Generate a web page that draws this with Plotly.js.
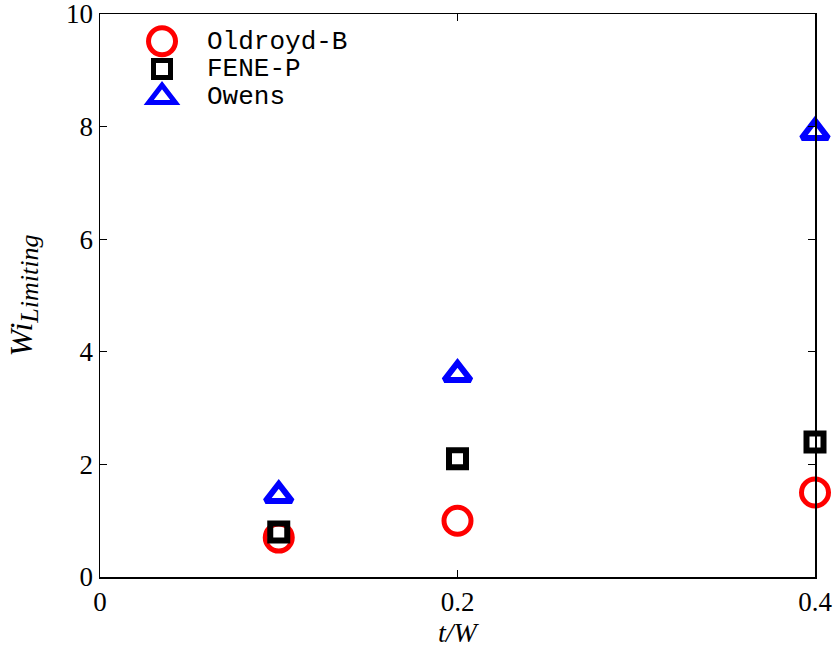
<!DOCTYPE html>
<html>
<head>
<meta charset="utf-8">
<script src="https://cdn.plot.ly/plotly-3.0.1.min.js"></script>
<style>
  html, body { margin: 0; padding: 0; background: #ffffff; }
  #chart { width: 835px; height: 650px; }
</style>
</head>
<body>
<div id="chart"></div>
<script>
// Limiting Weissenberg number against blockage ratio t/W for three constitutive models
const thicknessRatio = [0.1, 0.2, 0.4];
const oldroydB = [0.7, 1.0, 1.5];
const feneP = [0.8, 2.1, 2.4];
const owens = [1.45, 3.6, 7.9];

const seriesNames = ['Oldroyd-B', 'FENE-P', 'Owens'];
const xTickVals = [0, 0.2, 0.4];
const xTickText = ['0', '0.2', '0.4'];
const yTickVals = [0, 2, 4, 6, 8, 10];

const serif = "'Liberation Serif', 'Times New Roman', serif";
const mono = "'Liberation Mono', 'Courier New', monospace";

// legend entry label drawn larger than the legend's row pitch font
const legendLabel = (s) => "<span style='font-size:26px'>" + s + "</span>";

const markerStyles = [
  { symbol: 'circle-open', size: 27, color: '#ff0000', line: { width: 5, color: '#ff0000' } },
  { symbol: 'square-open', size: 17, color: '#000000', line: { width: 6, color: '#000000' } },
  { symbol: 'triangle-up-open', size: 23, color: '#0000ff', line: { width: 6, color: '#0000ff' } }
];
const seriesValues = [oldroydB, feneP, owens];

const traces = seriesValues.map((vals, i) => ({
  x: thicknessRatio,
  y: vals,
  name: legendLabel(seriesNames[i]),
  type: 'scatter',
  mode: 'markers',
  cliponaxis: false,
  marker: markerStyles[i]
}));

const axisCommon = {
  showgrid: false,
  zeroline: false,
  showline: true,
  linecolor: '#000000',
  linewidth: 1.5,
  mirror: 'ticks',
  ticks: 'inside',
  ticklen: 7,
  tickwidth: 1,
  tickcolor: '#000000',
  ticklabeloverflow: 'allow',
  tickfont: { family: serif, size: 27, color: '#000000' }
};

const layout = {
  width: 835,
  height: 650,
  paper_bgcolor: '#ffffff',
  plot_bgcolor: '#ffffff',
  margin: { l: 100, r: 20, t: 14, b: 73 },
  showlegend: true,
  legend: {
    x: 0.0238, y: 0.985, xanchor: 'left', yanchor: 'top',
    bgcolor: 'rgba(255,255,255,0)',
    borderwidth: 0,
    itemwidth: 80,
    font: { family: mono, size: 19, color: '#000000' }
  },
  xaxis: Object.assign({}, axisCommon, {
    range: [0, 0.4],
    tickmode: 'array', tickvals: xTickVals, ticktext: xTickText,
    title: { text: '<i>t/W</i>', font: { family: serif, size: 28, color: '#000000' }, standoff: 0 }
  }),
  yaxis: Object.assign({}, axisCommon, {
    range: [0, 10],
    tickmode: 'array', tickvals: yTickVals,
    title: {
      text: "<i>Wi</i><sub><i><span style='font-size:26px'>Limiting</span></i></sub>",
      font: { family: serif, size: 32, color: '#000000' },
      standoff: 24
    }
  })
};

Plotly.newPlot('chart', traces, layout, { displayModeBar: false, staticPlot: true }).then((gd) => {
  // legend symbols are capped at 16px; scale each back to its trace's marker size
  const items = gd.querySelectorAll('.legend .traces');
  items.forEach((item, i) => {
    const path = item.querySelector('.legendpoints path.scatterpts');
    if (!path) return;
    const k = markerStyles[i].size / 16;
    const t = path.getAttribute('transform') || '';
    path.setAttribute('transform', t + ' scale(' + k + ')');
    path.style.vectorEffect = 'non-scaling-stroke';
  });
});
</script>
</body>
</html>
